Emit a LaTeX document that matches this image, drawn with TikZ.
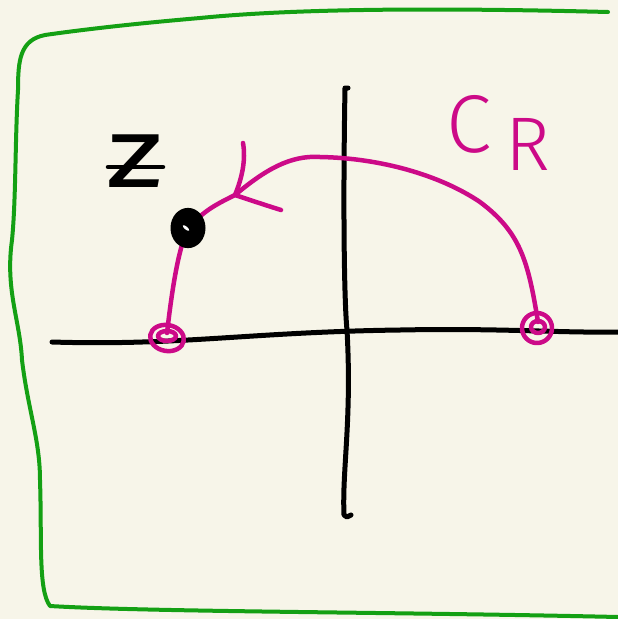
\documentclass[tikz,border=0pt]{standalone}
\usepackage{fontspec}
\setsansfont{Fira Sans Light}
\newfontfamily\zfont{Fira Sans}
\begin{document}
\begin{tikzpicture}[x=1pt,y=-1pt,
  frame/.style={draw=framegreen,line width=4pt,line cap=round,line join=round},
  axis/.style={draw=black,line width=5pt,line cap=round,line join=round},
  contour/.style={draw=contourpink,line width=4.5pt,line cap=round,line join=round},
  lbl/.style={inner sep=0pt}]
\definecolor{bg}{HTML}{F7F5E9}
\definecolor{framegreen}{HTML}{14A014}
\definecolor{contourpink}{HTML}{CC0A88}
\fill[bg] (0,0) rectangle (618,619);
\useasboundingbox (0,0) rectangle (618,619);
% green frame
\draw[frame] (608,12) .. controls (450,8) and (300,8) .. (200,18)
  .. controls (130,24) and (80,30) .. (45,35)
  .. controls (20,40) and (18,60) .. (18,90)
  .. controls (15,140) and (16,200) .. (12,240)
  .. controls (5,290) and (20,320) .. (22,360)
  .. controls (28,410) and (40,440) .. (40,480)
  .. controls (42,540) and (38,590) .. (50,606)
  .. controls (150,612) and (400,612) .. (618,617);
% axes
\coordinate (xl) at (52,342);
\coordinate (xr) at (618,332);
\coordinate (yt) at (345,88);
\coordinate (yb) at (347,517);
\draw[axis] (xl) .. controls (180,346) and (250,332) .. (400,330)
  .. controls (500,328) and (560,333) .. (xr);
\draw[axis] (348,88) -- (yt) .. controls (343,200) and (344,300) .. (347,330)
  .. controls (352,420) and (342,470) .. (344,515) -- (yb) -- (351,515);
% contour
\coordinate (p0) at (167,333);
\coordinate (pz) at (188,228);
\coordinate (pa) at (235,195);
\coordinate (p1) at (538,322);
\draw[contour] (p0) .. controls (172,290) and (178,250) .. (pz)
  .. controls (205,210) and (215,205) .. (pa)
  .. controls (265,170) and (290,155) .. (320,157)
  .. controls (380,158) and (440,175) .. (480,202)
  .. controls (520,232) and (528,260) .. (p1);
\draw[contour] (243,143) .. controls (246,160) and (242,178) .. (pa)
  .. controls (250,200) and (265,205) .. (281,210);
% endpoints
\draw[contour,rotate around={-10:(167,338)}] (167,338) ellipse [x radius=17,y radius=13];
\draw[contour] (167,336) ellipse [x radius=9,y radius=5];
\draw[contour] (537,328) ellipse [x radius=15,y radius=15];
\draw[contour] (538,327) ellipse [x radius=7,y radius=6];
% point z
\node[circle,fill=black,minimum width=30pt,minimum height=35pt,inner sep=0pt,yscale=1.15] (zdot) at (pz) {};
\fill[white,rotate around={-40:(186,228)}] (186,228) ellipse [x radius=4,y radius=1.5];
% labels
\node[lbl,text=black,xscale=1.3,font=\zfont\fontsize{100}{100}\selectfont] (zlabel) at (135,161) {z};
\draw[line width=4.5pt,line cap=round] (108,167) -- (163,167);
\node[lbl,text=contourpink,anchor=base west,font=\sffamily] (cr) at (446,152) {\fontsize{82}{82}\selectfont C\hspace{14pt}\fontsize{76}{76}\selectfont\raisebox{-18pt}{R}};
\end{tikzpicture}
\end{document}
